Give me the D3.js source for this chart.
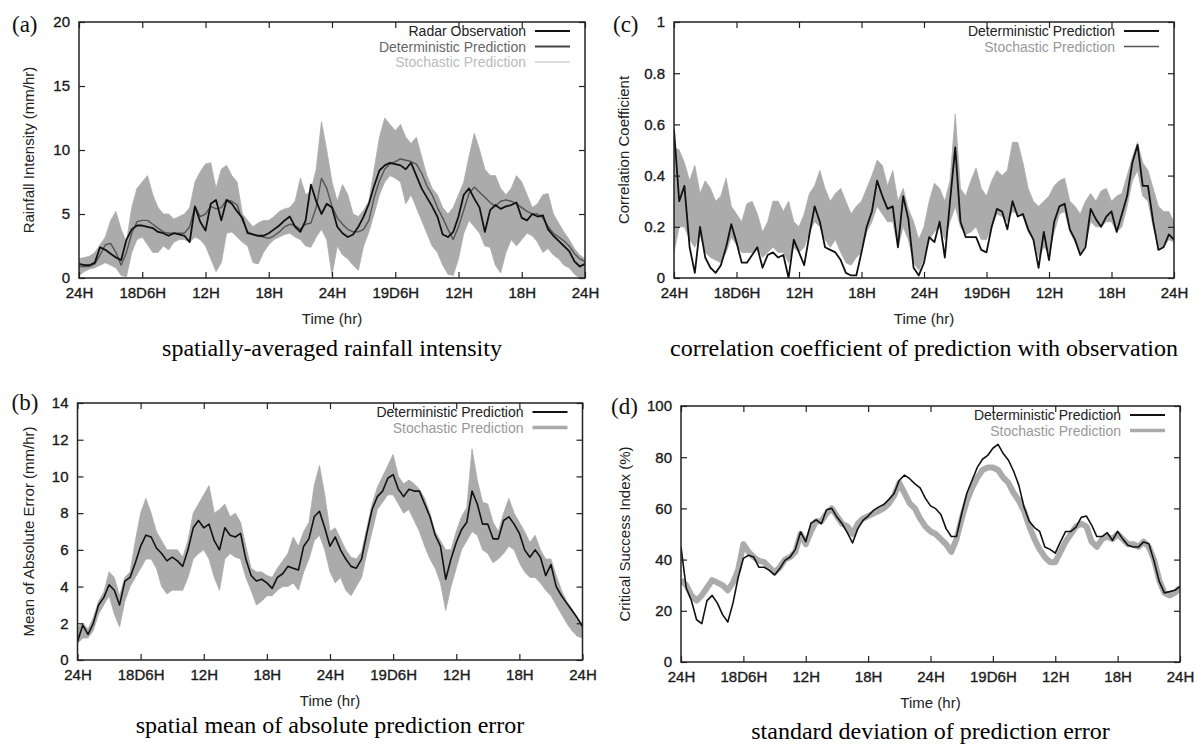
<!DOCTYPE html>
<html>
<head>
<meta charset="utf-8">
<script src="https://cdn.jsdelivr.net/npm/d3@7"></script>
<style>
  body { margin: 0; background: #fff; }
</style>
</head>
<body>
<div id="chart"></div>
<script>
// 30-minute samples over the 48 h window (97 values per series)
var stepHours = 0.5;
var hourTicks = [0, 6, 12, 18, 24, 30, 36, 42, 48];
var timeLabels = ["24H", "18D6H", "12H", "18H", "24H", "19D6H", "12H", "18H", "24H"];

// (a) rainfall intensity, mm/hr
var rainTicks = [0, 5, 10, 15, 20];
var rainObs = [
  1.1,1.0,1.0,1.2,2.4,2.2,1.9,1.6,1.4,3.0,
  3.8,4.1,4.1,4.0,3.9,3.6,3.5,3.3,3.5,3.4,
  3.3,2.8,5.6,4.4,3.7,5.8,6.1,4.5,6.1,5.8,
  5.2,4.7,3.5,3.4,3.3,3.3,3.5,3.8,4.1,4.5,
  4.8,4.0,3.6,4.5,7.3,6.0,5.0,5.8,5.5,4.0,
  3.5,3.2,3.4,4.0,4.8,5.8,7.2,8.4,8.8,9.0,
  8.9,8.8,8.5,9.0,8.0,7.0,6.3,5.6,4.8,3.4,
  3.2,3.6,4.8,6.5,7.0,6.2,5.5,3.6,5.3,5.7,
  5.4,5.6,5.7,5.9,4.7,4.5,5.0,4.8,4.9,3.8,
  3.3,2.9,2.5,2.1,1.3,0.9,1.1];
var rainDet = [
  0.9,0.9,0.9,1.1,1.8,2.6,2.7,2.0,1.0,2.0,
  3.5,4.4,4.5,4.5,4.2,3.9,3.6,3.5,3.5,3.5,
  3.5,4.0,5.6,4.8,5.0,5.6,5.4,5.5,6.1,6.0,
  5.7,4.5,3.6,3.4,3.3,3.2,3.1,3.3,3.6,4.0,
  4.2,4.1,3.8,4.2,4.3,5.5,7.8,7.0,5.6,4.7,
  4.2,3.8,3.6,3.6,3.8,4.5,6.3,7.6,8.5,8.9,
  9.1,9.3,9.2,9.1,8.9,8.2,7.2,6.5,5.5,4.7,
  3.8,3.0,4.0,5.3,6.6,7.1,6.7,6.3,5.9,5.6,
  6.0,6.1,6.0,5.8,5.5,5.2,5.0,5.0,4.7,4.0,
  3.5,3.2,2.9,2.5,1.9,1.5,1.3];
var rainStochHi = [
  1.5,1.6,1.7,2.0,2.6,3.2,4.5,5.2,3.8,2.8,
  5.5,7.0,7.5,8.0,6.5,5.5,5.0,5.0,4.6,4.8,
  5.0,5.5,7.5,8.3,8.9,9.0,7.0,8.5,8.8,8.0,
  7.5,5.0,4.5,4.0,4.3,4.5,4.5,4.8,5.2,5.4,
  5.5,6.0,7.8,6.5,6.8,8.5,12.2,10.0,7.5,6.0,
  7.3,6.5,5.0,4.8,5.3,6.0,8.5,11.0,12.5,12.0,
  11.5,12.0,11.0,10.5,11.0,9.5,8.0,7.0,6.5,5.5,
  5.0,5.5,6.5,7.5,9.5,11.3,10.0,8.5,8.0,8.0,
  7.0,6.5,7.0,8.0,7.5,6.5,5.5,5.8,6.5,6.6,
  5.0,4.3,3.6,3.0,2.3,1.8,1.5];
var rainStochLo = [
  0.2,0.5,0.7,0.8,1.0,1.2,1.0,0.8,0.2,0.1,
  2.0,3.0,3.2,2.6,2.0,2.0,2.5,2.2,2.8,3.0,
  3.0,2.8,3.2,3.0,2.5,1.5,0.5,1.2,3.5,3.6,
  3.2,2.8,2.5,1.2,1.1,2.0,2.6,3.0,3.2,3.4,
  3.5,3.2,3.0,2.5,2.4,3.2,3.8,3.0,0.2,2.5,
  1.8,1.5,1.0,0.6,2.5,3.6,5.0,6.5,7.5,8.0,
  7.8,7.5,5.8,6.5,5.5,4.5,3.5,2.5,2.0,1.0,
  0.3,0.2,1.5,3.5,4.5,4.0,3.5,2.5,2.4,1.0,
  0.4,2.0,3.0,2.5,3.0,3.5,3.3,2.8,2.0,2.3,
  1.8,1.5,1.0,0.8,0.3,0.0,0.0];

// (b) mean absolute error, mm/hr
var maeTicks = [0, 2, 4, 6, 8, 10, 12, 14];
var maeDet = [
  1.0,1.9,1.4,2.0,3.0,3.4,4.1,3.8,3.0,4.3,
  4.5,5.3,6.2,6.8,6.7,6.1,5.8,5.4,5.6,5.4,
  5.1,6.0,7.2,7.6,7.2,7.4,6.5,6.0,7.2,6.8,
  6.7,6.9,5.5,4.6,4.3,4.4,4.2,3.9,4.5,4.7,
  5.1,5.0,4.9,6.2,6.6,7.8,8.1,7.2,6.2,6.7,
  6.0,5.5,5.1,5.0,5.5,6.9,8.2,8.9,9.2,9.9,
  10.1,9.3,8.9,9.3,9.2,9.2,8.5,7.8,6.8,6.2,
  4.4,5.5,6.4,7.1,7.5,9.2,8.5,7.4,7.4,6.6,
  6.6,7.6,7.8,7.4,6.9,6.0,5.6,6.0,5.6,4.6,
  5.2,4.0,3.5,3.1,2.7,2.3,1.8];
var maeStochHi = [
  1.8,2.0,1.7,2.3,3.2,3.7,4.8,4.5,3.5,4.5,
  4.8,6.5,8.0,8.8,8.0,7.0,6.5,6.0,6.0,6.0,
  5.6,6.5,8.0,8.5,9.0,9.5,8.0,8.2,8.5,7.8,
  8.0,7.5,6.2,5.0,4.8,4.8,4.6,4.5,5.0,5.4,
  5.8,6.7,6.2,7.0,7.5,9.5,10.6,9.0,7.0,7.2,
  6.6,6.0,5.6,5.5,5.9,7.2,8.5,9.4,10.0,10.6,
  11.2,10.0,9.6,9.8,9.6,9.3,8.8,8.0,7.0,6.5,
  6.0,6.0,7.0,7.8,8.3,11.5,9.8,8.6,8.5,7.5,
  7.0,8.0,8.8,8.0,7.5,7.0,6.4,6.8,6.0,5.5,
  5.5,4.6,3.8,3.2,2.8,2.3,2.0];
var maeStochLo = [
  0.9,1.2,1.2,1.6,2.5,3.0,3.5,2.5,1.8,3.2,
  4.0,4.5,5.0,5.5,5.5,5.0,4.0,3.6,3.8,3.8,
  3.8,4.5,5.5,5.8,6.0,5.5,4.5,3.8,5.5,5.8,
  5.6,5.5,4.5,3.8,3.0,3.2,3.5,3.5,3.8,4.0,
  4.0,4.2,3.8,4.8,5.5,6.5,6.8,6.0,4.8,4.2,
  4.5,3.8,3.5,4.0,4.5,5.8,7.0,8.2,8.6,9.0,
  9.0,8.5,8.0,8.2,7.6,7.0,6.2,5.5,5.0,4.2,
  2.7,4.0,5.0,6.0,6.5,7.0,6.8,6.0,5.8,5.3,
  5.5,5.8,6.2,6.0,5.3,4.8,4.5,4.5,4.2,3.8,
  3.5,3.0,2.5,2.0,1.6,1.3,1.2];

// (c) correlation coefficient
var corrTicks = [0, 0.2, 0.4, 0.6, 0.8, 1];
var corrDet = [
  0.58,0.30,0.36,0.12,0.02,0.20,0.08,0.04,0.02,0.05,
  0.12,0.21,0.14,0.06,0.06,0.09,0.12,0.04,0.09,0.10,
  0.08,0.09,0.00,0.15,0.10,0.05,0.17,0.28,0.22,0.12,
  0.11,0.10,0.07,0.02,0.01,0.01,0.10,0.20,0.26,0.38,
  0.32,0.27,0.28,0.12,0.32,0.23,0.04,0.01,0.06,0.16,
  0.14,0.22,0.08,0.30,0.51,0.22,0.16,0.16,0.16,0.11,
  0.10,0.20,0.27,0.26,0.19,0.30,0.24,0.25,0.19,0.15,
  0.04,0.18,0.07,0.22,0.28,0.29,0.19,0.15,0.09,0.12,
  0.27,0.23,0.20,0.24,0.26,0.18,0.25,0.32,0.45,0.52,
  0.36,0.36,0.22,0.11,0.12,0.17,0.15];
var corrStochHi = [
  0.51,0.50,0.45,0.38,0.44,0.33,0.38,0.35,0.30,0.32,
  0.39,0.28,0.25,0.22,0.29,0.30,0.25,0.18,0.22,0.30,
  0.30,0.26,0.30,0.22,0.20,0.25,0.33,0.36,0.42,0.35,
  0.30,0.33,0.35,0.30,0.25,0.28,0.30,0.35,0.40,0.46,
  0.44,0.36,0.42,0.30,0.35,0.27,0.22,0.15,0.20,0.30,
  0.37,0.35,0.30,0.38,0.64,0.35,0.32,0.38,0.43,0.35,
  0.32,0.38,0.42,0.40,0.42,0.53,0.53,0.45,0.35,0.30,
  0.28,0.30,0.32,0.36,0.38,0.39,0.30,0.28,0.25,0.30,
  0.33,0.30,0.34,0.35,0.30,0.32,0.33,0.40,0.47,0.53,
  0.45,0.42,0.35,0.28,0.26,0.26,0.22];
var corrStochLo = [
  0.10,0.20,0.20,0.15,0.12,0.17,0.10,0.08,0.07,0.06,
  0.10,0.16,0.13,0.10,0.10,0.10,0.12,0.08,0.10,0.12,
  0.10,0.10,0.06,0.12,0.10,0.12,0.18,0.22,0.20,0.15,
  0.12,0.15,0.10,0.06,0.05,0.08,0.10,0.18,0.22,0.28,
  0.25,0.22,0.22,0.12,0.20,0.15,0.06,0.03,0.08,0.15,
  0.18,0.20,0.15,0.22,0.28,0.20,0.17,0.18,0.20,0.15,
  0.15,0.20,0.25,0.24,0.22,0.26,0.25,0.24,0.18,0.15,
  0.08,0.12,0.10,0.18,0.25,0.26,0.18,0.14,0.10,0.13,
  0.22,0.20,0.20,0.22,0.22,0.18,0.20,0.28,0.38,0.42,
  0.32,0.30,0.20,0.12,0.12,0.15,0.14];

// (d) critical success index, %
var csiTicks = [0, 20, 40, 60, 80, 100];
var csiDet = [
  45,29,24,16.5,15,24,26,23,18.5,15.6,
  23,33,40.5,41.7,41,37,37,35.8,34,36.5,
  39.7,41,44,50.8,47,54.2,55.5,54,59.5,60,
  56.6,54,50.5,46.5,52,55.3,57,59.2,60.5,61.5,
  63.5,65.8,71,73,71.6,69.6,68,64,61,59.9,
  57.6,52.1,49,49,58,66,71,76,79.2,80.7,
  83.5,85,81.4,78.8,74.5,69,60.5,55,52.5,51,
  44.9,44,42.5,46.9,51,51,52.7,56.5,57,53.5,
  49,49,50.5,47.5,51,48,45.6,44.9,44.9,46.9,
  46.2,39.5,31.5,27,27.5,28,29.5];
var csiStoch = [
  32,30,26,24,26,29,32,31,30,28,
  31,36,46,43,41,39.5,39,37,35,37,
  40,41,43,50,46,51,55,55,58,60,
  57,54,53,50,54,56,57,58,59,60,
  62,65,70,66,62,60,56,53,51,50,
  48,46,43,48,56,63,68,72,75,76,
  76,75,72,70,66,63,59,53,48,44,
  41,39,39,43,47,50,53,54,53,47,
  45,48,49,48,50,48,46,46,45,47,
  45,40,32,27,26,27,29];


var svg = d3.select("#chart").append("svg")
    .attr("width", 1198)
    .attr("height", 745)
    .style("font-family", '"Liberation Sans", Arial, Helvetica, sans-serif');

var TimePanel = function(input) {
    // load in arguments from config object
    this.input = input;
    this.draw();
}

TimePanel.prototype.draw = function() {
    var p = this.input;
    this.width  = p.width;
    this.height = p.height;

    this.canvas = svg.append("g")
        .attr("transform", "translate(" + p.left + "," + p.top + ")");

    this.xScale = d3.scaleLinear().domain([0, 48]).range([0, this.width]);
    this.yScale = d3.scaleLinear().domain(p.yDomain).range([this.height, 0]);

    this.canvas.append("clipPath")
        .attr("id", "clip-" + p.id)
      .append("rect")
        .attr("width", this.width)
        .attr("height", this.height);

    this.plot = this.canvas.append("g")
        .attr("clip-path", "url(#clip-" + p.id + ")");

    this.addSeries();
    this.addAxes();
    this.addLegend();
    this.addHeadersAndLabels();
}

TimePanel.prototype.addSeries = function() {
    var chart_this = this;  // for d3 anonymous functions
    var xPos = function(d, i) { return chart_this.xScale(i * stepHours); };

    this.input.series.forEach(function(s) {
        if (s.lo) {
            // ensemble spread drawn as a band
            var area = d3.area()
                .x(xPos)
                .y0(function(d, i) { return chart_this.yScale(s.lo[i]); })
                .y1(function(d) { return chart_this.yScale(d); });
            chart_this.plot.append("path")
                .datum(s.hi)
                .attr("d", area)
                .attr("fill", s.color)
                .attr("stroke", s.color)
                .attr("stroke-width", 0.8);
        } else {
            var line = d3.line()
                .x(xPos)
                .y(function(d) { return chart_this.yScale(d); });
            chart_this.plot.append("path")
                .datum(s.values)
                .attr("d", line)
                .attr("fill", "none")
                .attr("stroke", s.color)
                .attr("stroke-width", s.width)
                .attr("stroke-linejoin", "round");
        }
    });
}

TimePanel.prototype.addAxes = function() {
    var w = this.width, h = this.height;
    var yTicks = this.input.yTicks;

    var xAxis = d3.axisBottom(this.xScale)
        .tickValues(hourTicks)
        .tickFormat(function(d, i) { return timeLabels[i]; })
        .tickSizeInner(-6).tickSizeOuter(0).tickPadding(9.5);

    var yAxis = d3.axisLeft(this.yScale)
        .tickValues(yTicks)
        .tickFormat(d3.format("~g"))
        .tickSizeInner(-6).tickSizeOuter(0).tickPadding(9);

    this.canvas.append("g")
        .attr("class", "x axis")
        .attr("transform", "translate(0," + h + ")")
        .call(xAxis);

    this.canvas.append("g")
        .attr("class", "y axis")
        .call(yAxis);

    // mirrored ticks on top and right, gnuplot style
    this.canvas.append("g")
        .attr("class", "x axis")
        .call(d3.axisTop(this.xScale).tickValues(hourTicks).tickFormat("")
            .tickSizeInner(-6).tickSizeOuter(0));

    this.canvas.append("g")
        .attr("class", "y axis")
        .attr("transform", "translate(" + w + ",0)")
        .call(d3.axisRight(this.yScale).tickValues(yTicks).tickFormat("")
            .tickSizeInner(-6).tickSizeOuter(0));

    this.canvas.selectAll(".axis").attr("font-family", null).attr("font-size", 15);
    this.canvas.selectAll(".axis .domain").remove();
    this.canvas.selectAll(".axis line").attr("stroke", "#222").attr("stroke-width", 1.2);
    // slightly heavier glyphs, like the original raster
    this.canvas.selectAll(".axis text")
        .attr("fill", "#1a1a1a")
        .attr("stroke", "#1a1a1a")
        .attr("stroke-width", 0.35);

    this.canvas.append("rect")
        .attr("width", w)
        .attr("height", h)
        .attr("fill", "none")
        .attr("stroke", "#222")
        .attr("stroke-width", 1.5);
}

TimePanel.prototype.addLegend = function() {
    var w = this.width;
    var rows = this.canvas.append("g")
        .attr("class", "legend")
      .selectAll("g")
        .data(this.input.legend)
      .enter().append("g")
        .attr("transform", function(d, i) { return "translate(0," + (9 + i * 15.5) + ")"; });

    rows.append("text")
        .attr("x", w - 59)
        .attr("y", 5)
        .attr("text-anchor", "end")
        .attr("font-size", 14)
        .attr("fill", function(d) { return d.text; })
        .text(function(d) { return d.label; });

    rows.append("line")
        .attr("x1", w - 50)
        .attr("x2", w - 15)
        .attr("stroke", function(d) { return d.stroke; })
        .attr("stroke-width", function(d) { return d.width; });
}

TimePanel.prototype.addHeadersAndLabels = function() {
    var p = this.input;

    // y-axis label
    this.canvas.append("text")
        .attr("transform", "rotate(-90)")
        .attr("x", -this.height / 2)
        .attr("y", p.yTitleX)
        .attr("dy", "0.35em")
        .attr("text-anchor", "middle")
        .attr("font-size", 15)
        .attr("fill", "#222")
        .text(p.yTitle);

    // x-axis label
    this.canvas.append("text")
        .attr("x", this.width / 2)
        .attr("y", this.height + 46)
        .attr("text-anchor", "middle")
        .attr("font-size", 15)
        .attr("fill", "#222")
        .text("Time (hr)");

    // panel tag and caption
    this.canvas.append("text")
        .attr("x", p.tagX)
        .attr("y", p.tagY)
        .attr("font-family", '"Liberation Serif", "Times New Roman", serif')
        .attr("font-size", 23)
        .attr("fill", "#111")
        .text(p.tag);

    this.canvas.append("text")
        .attr("x", this.width / 2)
        .attr("y", this.height + p.captionY)
        .attr("text-anchor", "middle")
        .attr("font-family", '"Liberation Serif", "Times New Roman", serif')
        .attr("font-size", 24)
        .attr("fill", "#000")
        .text(p.caption);
}

var detLegend = { label: "Deterministic Prediction", text: "#222", stroke: "#111", width: 2 };

new TimePanel({
    id: "a", left: 79, top: 22, width: 506, height: 256,
    yDomain: [0, 20], yTicks: rainTicks,
    yTitle: "Rainfall Intensity (mm/hr)", yTitleX: -50,
    tag: "(a)", tagX: -67, tagY: 10,
    caption: "spatially-averaged rainfall intensity", captionY: 78,
    series: [
        { hi: rainStochHi, lo: rainStochLo, color: "#ababab" },
        { values: rainDet, color: "#555", width: 1.4 },
        { values: rainObs, color: "#111", width: 1.8 }
    ],
    legend: [
        { label: "Radar Observation", text: "#222", stroke: "#111", width: 2 },
        { label: "Deterministic Prediction", text: "#666", stroke: "#444", width: 2 },
        { label: "Stochastic Prediction", text: "#bbb", stroke: "#bbb", width: 1.2 }
    ]
});

new TimePanel({
    id: "c", left: 674, top: 22, width: 500, height: 256,
    yDomain: [0, 1], yTicks: corrTicks,
    yTitle: "Correlation Coefficient", yTitleX: -50,
    tag: "(c)", tagX: -61, tagY: 10,
    caption: "correlation coefficient of prediction with observation", captionY: 78,
    series: [
        { hi: corrStochHi, lo: corrStochLo, color: "#ababab" },
        { values: corrDet, color: "#111", width: 1.8 }
    ],
    legend: [
        detLegend,
        { label: "Stochastic Prediction", text: "#999", stroke: "#555", width: 1.5 }
    ]
});

new TimePanel({
    id: "b", left: 77.5, top: 403, width: 505, height: 257,
    yDomain: [0, 14], yTicks: maeTicks,
    yTitle: "Mean of Absolute Error (mm/hr)", yTitleX: -49,
    tag: "(b)", tagX: -66, tagY: 7,
    caption: "spatial mean of absolute prediction error", captionY: 73,
    series: [
        { hi: maeStochHi, lo: maeStochLo, color: "#ababab" },
        { values: maeDet, color: "#111", width: 1.6 }
    ],
    legend: [
        detLegend,
        { label: "Stochastic Prediction", text: "#999", stroke: "#aaa", width: 3.5 }
    ]
});

new TimePanel({
    id: "d", left: 681, top: 406, width: 499, height: 256,
    yDomain: [0, 100], yTicks: csiTicks,
    yTitle: "Critical Success Index (%)", yTitleX: -56,
    tag: "(d)", tagX: -70, tagY: 8,
    caption: "standard deviation of prediction error", captionY: 77,
    series: [
        { values: csiStoch, color: "#ababab", width: 6 },
        { values: csiDet, color: "#111", width: 1.6 }
    ],
    legend: [
        detLegend,
        { label: "Stochastic Prediction", text: "#999", stroke: "#aaa", width: 3.5 }
    ]
});
</script>
</body>
</html>
